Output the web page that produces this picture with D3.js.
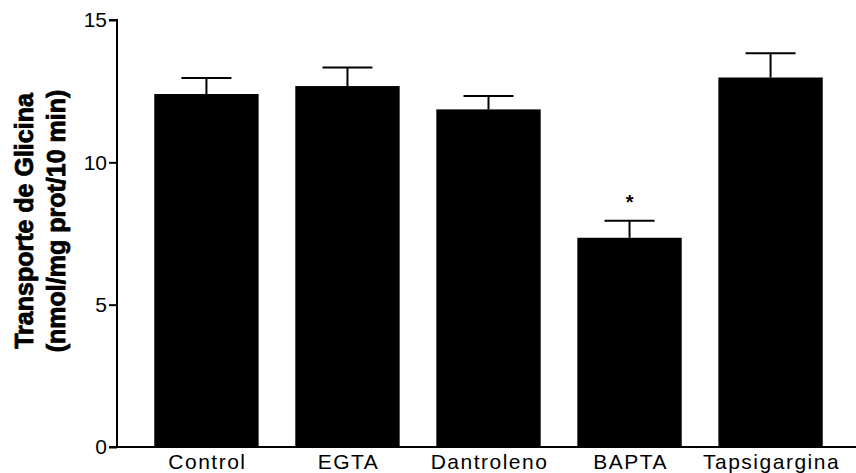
<!DOCTYPE html>
<html>
<head>
<meta charset="utf-8">
<script src="https://cdn.jsdelivr.net/npm/d3@7"></script>
<style>
  body { margin: 0; background: #fff; }
  svg { font-family: "Liberation Sans", Arial, sans-serif; }
  .axis path, .axis line { stroke: #000; stroke-width: 2; }
  .axis text { font-size: 21px; fill: #000; }
</style>
</head>
<body>
<svg id="chart" width="856" height="473"></svg>
<script>
// chart data
const categories = ["Control", "EGTA", "Dantroleno", "BAPTA", "Tapsigargina"];
const values = [12.4, 12.68, 11.86, 7.35, 12.98];
const errors = [0.56, 0.65, 0.47, 0.6, 0.85];
const significant = [false, false, false, true, false];
const yTicks = [0, 5, 10, 15];

const width = 856;
const height = 473;
const axisX = 117;
const baseY = 447;
const topY = 20;

const svg = d3.select("#chart");

const xScale = d3.scaleBand()
    .domain(categories)
    .range([axisX + 2, width + 2])
    .paddingInner(0.26)
    .paddingOuter(0.25);

const yScale = d3.scaleLinear()
    .domain([0, 15])
    .range([baseY, topY]);

const cx = i => xScale(categories[i]) + xScale.bandwidth() / 2;

// bars
svg.selectAll("rect.bar")
    .data(values)
    .enter()
    .append("rect")
    .attr("class", "bar")
    .attr("x", (d, i) => xScale(categories[i]))
    .attr("y", d => yScale(d))
    .attr("width", xScale.bandwidth())
    .attr("height", d => baseY - yScale(d))
    .attr("fill", "#000");

// error bars (upper only)
const err = svg.selectAll("g.err")
    .data(values)
    .enter()
    .append("g")
    .attr("class", "err");

err.append("line")
    .attr("x1", (d, i) => cx(i))
    .attr("x2", (d, i) => cx(i))
    .attr("y1", d => yScale(d))
    .attr("y2", (d, i) => yScale(d + errors[i]))
    .attr("stroke", "#000")
    .attr("stroke-width", 2);

err.append("line")
    .attr("x1", (d, i) => cx(i) - 25)
    .attr("x2", (d, i) => cx(i) + 25)
    .attr("y1", (d, i) => yScale(d + errors[i]))
    .attr("y2", (d, i) => yScale(d + errors[i]))
    .attr("stroke", "#000")
    .attr("stroke-width", 2);

// significance marks
values.forEach((d, i) => {
    if (!significant[i]) return;
    svg.append("text")
        .attr("class", "sig")
        .attr("x", cx(i))
        .attr("y", yScale(d + errors[i]) - 12)
        .attr("text-anchor", "middle")
        .attr("font-size", "20px")
        .attr("font-weight", "bold")
        .text("*");
});

// axes
const leftAxis = d3.axisLeft(yScale).tickValues(yTicks).tickSize(8).tickPadding(2);
svg.append("g")
    .attr("class", "axis")
    .attr("transform", "translate(" + axisX + ",0)")
    .call(leftAxis)
    .call(g => g.select(".domain").attr("d", "M-8," + topY + "H0V" + baseY + "H-8"));

svg.append("line")
    .attr("x1", axisX)
    .attr("x2", width)
    .attr("y1", baseY)
    .attr("y2", baseY)
    .attr("stroke", "#000")
    .attr("stroke-width", 2);

// category labels
svg.selectAll("text.cat")
    .data(categories)
    .enter()
    .append("text")
    .attr("class", "cat")
    .attr("x", d => xScale(d) + xScale.bandwidth() / 2 + 1)
    .attr("y", 469)
    .attr("text-anchor", "middle")
    .attr("font-size", "21px")
    .attr("letter-spacing", "1.5px")
    .text(d => d);

// y axis title (scan looks heavier than plain bold, so add a thin stroke)
const title = svg.append("text")
    .attr("transform", "translate(33,221) rotate(-90)")
    .attr("text-anchor", "middle")
    .attr("font-size", "25px")
    .attr("font-weight", "bold")
    .attr("stroke", "#000")
    .attr("stroke-width", 0.8);
title.append("tspan").attr("x", 0).attr("dy", 0).text("Transporte de Glicina");
title.append("tspan").attr("x", 0).attr("dy", 32).text("(nmol/mg prot/10 min)");
</script>
</body>
</html>
